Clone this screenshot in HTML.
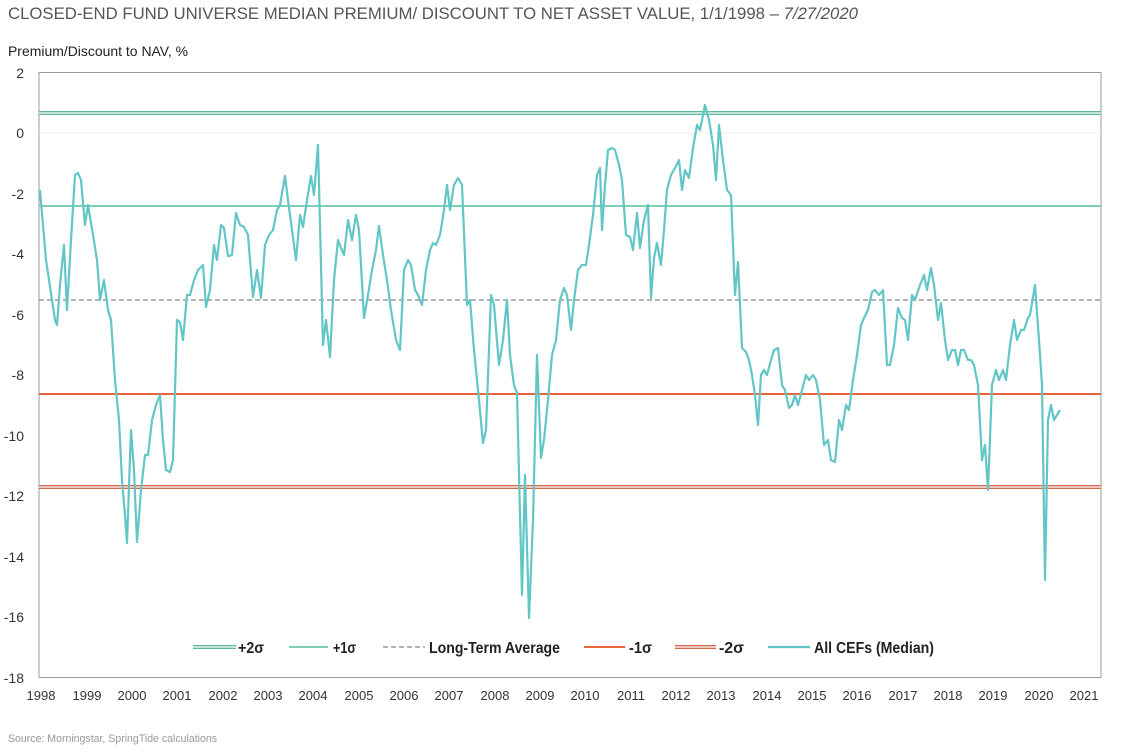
<!DOCTYPE html>
<html><head><meta charset="utf-8"><style>
html,body{margin:0;padding:0;background:#fff;}
svg{display:block;font-family:"Liberation Sans",Arial,sans-serif;}
</style></head><body>
<svg width="1123" height="756" viewBox="0 0 1123 756">
<text x="8" y="19" font-size="17" fill="#555" textLength="850" lengthAdjust="spacingAndGlyphs">CLOSED-END FUND UNIVERSE MEDIAN PREMIUM/ DISCOUNT TO NET ASSET VALUE, 1/1/1998 – <tspan font-style="italic">7/27/2020</tspan></text>
<text x="8" y="56" font-size="14" fill="#222" textLength="180" lengthAdjust="spacingAndGlyphs">Premium/Discount to NAV, %</text>
<rect x="39" y="72.5" width="1062" height="605" fill="none" stroke="#999" stroke-width="1"/>
<g stroke="#eee" stroke-width="1">
<line x1="39" x2="1101" y1="133" y2="133"/>
</g>
<g font-size="14" fill="#333" text-anchor="end">
<text x="24" y="78">2</text><text x="24" y="138">0</text><text x="24" y="199">-2</text><text x="24" y="259">-4</text><text x="24" y="320">-6</text><text x="24" y="380">-8</text><text x="24" y="441">-10</text><text x="24" y="501">-12</text><text x="24" y="562">-14</text><text x="24" y="622">-16</text><text x="24" y="683">-18</text>
</g>
<g font-size="13" fill="#333" text-anchor="middle">
<text x="41" y="700">1998</text><text x="87" y="700">1999</text><text x="132" y="700">2000</text><text x="177" y="700">2001</text><text x="223" y="700">2002</text><text x="268" y="700">2003</text><text x="313" y="700">2004</text><text x="359" y="700">2005</text><text x="404" y="700">2006</text><text x="449" y="700">2007</text><text x="495" y="700">2008</text><text x="540" y="700">2009</text><text x="585" y="700">2010</text><text x="631" y="700">2011</text><text x="676" y="700">2012</text><text x="721" y="700">2013</text><text x="767" y="700">2014</text><text x="812" y="700">2015</text><text x="857" y="700">2016</text><text x="903" y="700">2017</text><text x="948" y="700">2018</text><text x="993" y="700">2019</text><text x="1039" y="700">2020</text><text x="1084" y="700">2021</text>
</g>
<line x1="39" x2="1101" y1="113" y2="113" stroke="#5fb898" stroke-width="4"/>
<line x1="39" x2="1101" y1="113" y2="113" stroke="#fff" stroke-width="1.2"/>
<line x1="39" x2="1101" y1="206" y2="206" stroke="#6cc8a8" stroke-width="1.8"/>
<line x1="39" x2="1101" y1="300" y2="300" stroke="#999" stroke-width="1.5" stroke-dasharray="5,3"/>
<line x1="39" x2="1101" y1="394" y2="394" stroke="#e8643c" stroke-width="2"/>
<line x1="39" x2="1101" y1="487" y2="487" stroke="#d0684a" stroke-width="4"/>
<line x1="39" x2="1101" y1="487" y2="487" stroke="#fff" stroke-width="1.2"/>
<polyline fill="none" stroke="#62c6c6" stroke-width="2.2" stroke-linejoin="round" points="40,190 46,260 52,300 55,320 57,325 60,285 64,245 67,310 71,240 75,175 78,173 81,180 85,225 88,205 93,235 97,260 100,300 104,280 108,310 111,320 115,380 119,420 122,480 125,515 127,543 131,430 134,470 137,542 141,490 145,455 148,455 152,420 156,405 160,395 163,440 166,470 170,472 173,460 177,320 180,322 183,340 187,295 190,295 194,280 198,270 203,265 206,307 210,290 214,245 217,260 221,225 224,228 228,256 232,255 236,213 240,225 244,227 248,235 253,297 257,270 261,298 265,245 269,235 273,230 277,210 280,205 285,176 288,200 292,230 296,260 300,215 303,227 307,200 311,176 314,195 318,145 323,345 326,320 330,357 334,280 338,240 341,248 344,255 348,220 352,240 356,215 359,230 364,318 368,295 372,270 376,250 379,226 383,255 387,280 391,310 396,340 400,350 404,270 408,260 411,265 415,290 418,295 422,305 426,270 430,250 433,243 436,245 440,235 444,210 447,185 450,210 454,185 458,178 462,185 467,305 470,300 474,350 479,400 483,443 486,430 491,295 494,305 499,365 503,340 507,300 510,355 514,385 517,393 522,595 525,475 529,618 533,520 537,355 541,458 544,440 548,400 552,355 556,340 560,300 564,288 567,295 571,330 574,300 578,270 582,265 586,265 589,245 593,215 597,175 600,168 602,230 605,185 608,150 612,148 615,150 619,165 622,180 626,235 630,237 633,250 637,213 640,248 644,220 648,205 651,298 654,258 657,243 661,265 664,230 667,190 671,175 675,168 679,160 682,190 685,170 689,178 693,148 697,125 700,130 705,105 709,120 713,145 716,180 719,125 723,160 727,190 731,195 735,295 738,262 742,348 746,352 749,360 752,375 755,395 758,425 761,375 764,370 767,375 771,360 774,350 778,348 782,385 785,390 789,408 792,405 795,395 798,405 802,390 806,375 809,380 813,375 816,380 820,400 824,445 828,440 831,460 835,462 839,420 842,430 846,405 849,410 853,380 857,355 861,325 864,318 868,310 872,292 875,290 879,295 883,290 887,365 890,365 894,345 898,308 902,318 905,320 908,340 912,295 915,300 920,285 924,275 927,290 931,268 934,285 938,320 941,303 945,340 948,360 952,350 955,350 958,365 961,350 964,350 968,360 971,360 974,365 978,385 982,460 985,445 988,490 992,385 996,370 999,380 1003,370 1006,380 1010,345 1014,320 1017,340 1021,330 1024,330 1028,318 1030,315 1035,285 1039,340 1042,385 1045,580 1048,420 1051,405 1054,420 1057,415 1060,410"/>
<g font-size="16" font-weight="bold" fill="#222">
<line x1="193" x2="236" y1="647" y2="647" stroke="#5fb898" stroke-width="4"/><line x1="193" x2="236" y1="647" y2="647" stroke="#fff" stroke-width="1.2"/>
<text x="238" y="653" textLength="26" lengthAdjust="spacingAndGlyphs">+2σ</text>
<line x1="289" x2="328" y1="647" y2="647" stroke="#6cc8a8" stroke-width="1.8"/>
<text x="333" y="653" textLength="23" lengthAdjust="spacingAndGlyphs">+1σ</text>
<line x1="383" x2="425" y1="647" y2="647" stroke="#999" stroke-width="1.5" stroke-dasharray="5,3"/>
<text x="429" y="653" textLength="131" lengthAdjust="spacingAndGlyphs">Long-Term Average</text>
<line x1="584" x2="625" y1="647" y2="647" stroke="#e8643c" stroke-width="2"/>
<text x="629" y="653" textLength="23" lengthAdjust="spacingAndGlyphs">-1σ</text>
<line x1="675" x2="716" y1="647" y2="647" stroke="#d0684a" stroke-width="4"/><line x1="675" x2="716" y1="647" y2="647" stroke="#fff" stroke-width="1.2"/>
<text x="719" y="653" textLength="25" lengthAdjust="spacingAndGlyphs">-2σ</text>
<line x1="768" x2="810" y1="647" y2="647" stroke="#62c6c6" stroke-width="2.2"/>
<text x="814" y="653" textLength="120" lengthAdjust="spacingAndGlyphs">All CEFs (Median)</text>
</g>
<text x="8" y="742" font-size="11" fill="#999" textLength="209" lengthAdjust="spacingAndGlyphs">Source: Morningstar, SpringTide calculations</text>
</svg>
</body></html>
